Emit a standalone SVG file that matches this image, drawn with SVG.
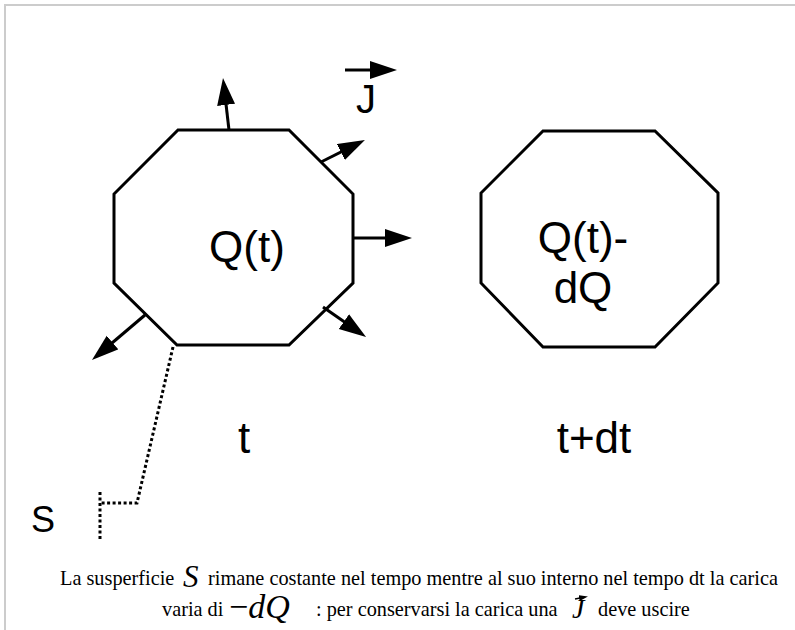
<svg xmlns="http://www.w3.org/2000/svg" width="795" height="630" viewBox="0 0 795 630">
<style>
.oct{fill:none;stroke:#000;stroke-width:3;stroke-linejoin:miter}
.arr{fill:none;stroke:#000;stroke-width:3}
.dot{fill:none;stroke:#000;stroke-width:3;stroke-dasharray:3,2.5}
.lbl{font-family:"Liberation Sans",Arial,sans-serif;fill:#000}
.cap{font-family:"Liberation Serif","Times New Roman",serif;fill:#000;font-size:20.3px}
.math{font-family:"Liberation Serif","Times New Roman",serif;font-style:italic;fill:#000}
</style>
<defs>
<marker id="ah" markerUnits="userSpaceOnUse" markerWidth="30" markerHeight="20" refX="20" refY="9" orient="auto">
<path d="M0,0 L27,9 L0,18 z" fill="#000"/>
</marker>
<marker id="ahs" markerUnits="userSpaceOnUse" markerWidth="12" markerHeight="10" refX="6" refY="3" orient="auto">
<path d="M0,0 L9,3 L0,6 z" fill="#000"/>
</marker>
</defs>
<rect width="795" height="630" fill="#fff"/>
<path d="M5,630 V5 H795" fill="none" stroke="#cccccc" stroke-width="2"/>
<g id="surface-t">
<polygon class="oct" points="178,130 289,130 353,194 353,283 289,345 177,345 114,283 114,194"/>
<text class="lbl" x="247" y="262" font-size="44" text-anchor="middle">Q(t)</text>
</g>
<g id="surface-tdt">
<polygon class="oct" points="543,131 655,131 718,193 718,283 655,347 543,347 481,283 481,193"/>
<text class="lbl" x="583" y="253" font-size="44" text-anchor="middle">Q(t)-</text>
<text class="lbl" x="583" y="303" font-size="44" text-anchor="middle">dQ</text>
</g>
<g id="connectors">
<line class="arr" x1="229" y1="130" x2="223.8" y2="85" marker-end="url(#ah)"/>
<line class="arr" x1="321" y1="162" x2="358.7" y2="143.1" marker-end="url(#ah)"/>
<line class="arr" x1="353" y1="238" x2="405" y2="238" marker-end="url(#ah)"/>
<line class="arr" x1="323" y1="307" x2="360.3" y2="333" marker-end="url(#ah)"/>
<line class="arr" x1="145" y1="315" x2="97.3" y2="355.5" marker-end="url(#ah)"/>
<line class="arr" x1="345" y1="70" x2="390" y2="70" marker-end="url(#ah)"/>
<polyline class="dot" points="173,347 137,503 100,503"/>
<line class="dot" x1="100" y1="492" x2="100" y2="540"/>
</g>
<g id="labels">
<text class="lbl" x="356" y="113" font-size="40">J</text>
<text class="lbl" x="244" y="453" font-size="44" text-anchor="middle">t</text>
<text class="lbl" x="594" y="453" font-size="44" text-anchor="middle">t+dt</text>
<text class="lbl" x="31" y="532" font-size="36">S</text>
</g>
<g id="caption">
<text class="cap" x="60" y="585">La susperficie</text>
<text class="math" x="183" y="587" font-size="31">S</text>
<text class="cap" x="208" y="585">rimane costante nel tempo mentre al suo interno nel tempo dt la carica</text>
<text class="cap" x="162" y="616">varia di</text>
<text class="math" x="229" y="618" font-size="34"><tspan font-style="normal">−</tspan>dQ</text>
<text class="cap" x="316" y="616">: per conservarsi la carica una</text>
<text class="math" x="572" y="618" font-size="28">J</text>
<line x1="575" y1="599" x2="585" y2="597" stroke="#000" stroke-width="1.3" marker-end="url(#ahs)"/>
<text class="cap" x="598" y="616">deve uscire</text>
</g>
</svg>
